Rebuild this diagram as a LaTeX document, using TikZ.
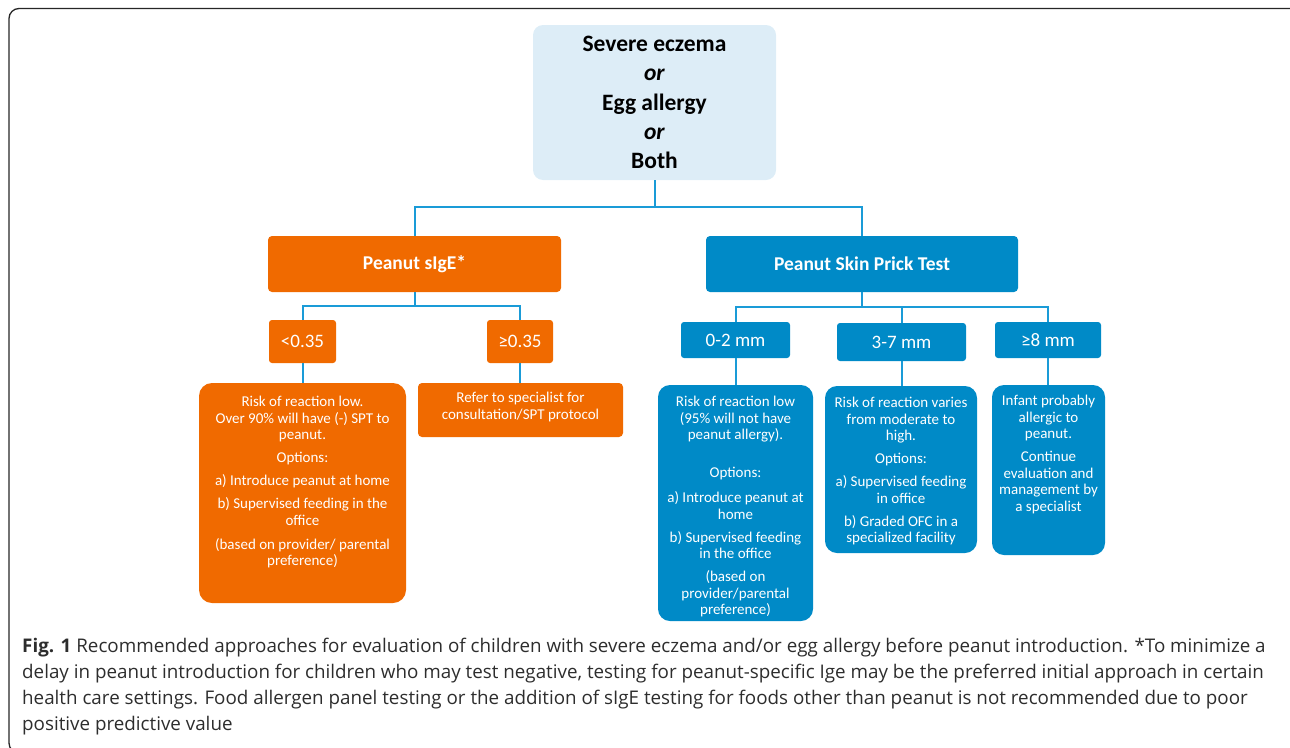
\documentclass[tikz,border=0pt]{standalone}
\usepackage{fontspec}
\setmainfont{Carlito}
\newfontfamily\capfont{Open Sans}
\definecolor{orangeC}{RGB}{240,106,0}
\definecolor{blueC}{RGB}{0,138,199}
\definecolor{lightC}{RGB}{221,237,247}
\definecolor{connC}{RGB}{26,155,215}
\definecolor{capC}{RGB}{45,45,45}
\begin{document}
\begin{tikzpicture}[x=1pt,y=-1pt,
  conn/.style={draw=connC, line width=2pt},
  obox/.style={fill=orangeC, inner sep=0pt, text=white},
  bbox/.style={fill=blueC, inner sep=0pt, text=white},
  headtxt/.style={font=\fontsize{19.5}{22}\selectfont\bfseries},
  valtxt/.style={font=\fontsize{19}{21}\selectfont},
  bodytxt/.style={text=white, inner sep=0pt, align=center, anchor=north, font=\fontsize{15}{16.5}\selectfont},
  captxt/.style={text=capC, inner sep=0pt, anchor=base west, font=\capfont\fontsize{18.8}{22}\selectfont}
]
\useasboundingbox (0,0) rectangle (1290,747);
% frame
\begin{scope}
\clip (0,0) rectangle (1290,747);
\draw[line width=1.3pt, draw=black!85, rounded corners=10pt] (9,8.5) rectangle (1300,753);
\end{scope}

% top box
\node[fill=lightC, rounded corners=10pt, inner sep=0pt, minimum width=243pt, minimum height=155pt,
      align=center, font=\fontsize{23.5}{29.25}\selectfont\bfseries] (top) at (654.5,102.5)
  {Severe eczema\\ \textit{or}\\ Egg allergy\\ \textit{or}\\ Both};

% level 1
\node[obox, rounded corners=4pt, minimum width=293pt, minimum height=56pt, headtxt] (sige) at (414.5,264) {Peanut sIgE*};
\node[bbox, rounded corners=4pt, minimum width=312pt, minimum height=56pt, headtxt] (spt) at (862,264) {Peanut Skin Prick Test};

% level 2
\node[obox, rounded corners=3pt, minimum width=67pt, minimum height=43pt, valtxt] (lt) at (302.5,341.5) {<0.35};
\node[obox, rounded corners=3pt, minimum width=66pt, minimum height=43pt, valtxt] (ge) at (520,341.5) {≥0.35};
\node[bbox, rounded corners=3pt, minimum width=109pt, minimum height=36pt, valtxt] (mm02) at (735.5,340) {0-2 mm};
\node[bbox, rounded corners=3pt, minimum width=129pt, minimum height=38pt, valtxt] (mm37) at (901.5,342) {3-7 mm};
\node[bbox, rounded corners=3pt, minimum width=106pt, minimum height=36pt, valtxt] (mm8) at (1048,340) {≥8 mm};

% level 3 boxes
\node[obox, rounded corners=13pt, minimum width=207pt, minimum height=220pt] (l1) at (302.5,493) {};
\node[obox, rounded corners=4pt, minimum width=205pt, minimum height=54pt] (ref) at (520.5,410) {};
\node[bbox, rounded corners=12pt, minimum width=155pt, minimum height=236pt] (b1) at (735.5,503) {};
\node[bbox, rounded corners=12pt, minimum width=152pt, minimum height=167pt] (b2) at (901,469.5) {};
\node[bbox, rounded corners=12pt, minimum width=113pt, minimum height=170pt] (b3) at (1048.5,470) {};

% level 3 texts
\node[bodytxt] (l1t) at (302.5,396) {Risk of reaction low.\\ Over 90\% will have (-) SPT to\\ peanut.\\[6.5pt]
  Options:\\[6.5pt] a) Introduce peanut at home\\[6.5pt] b) Supervised feeding in the\\ office\\[7.5pt]
  (based on provider/ parental\\ preference)};
\node[bodytxt] (reft) at (520.5,392) {Refer to specialist for\\ consultation/SPT protocol};
\node[bodytxt] (b1t) at (735.5,396) {Risk of reaction low\\ (95\% will not have\\ peanut allergy).\\[21.5pt]
  Options:\\[8.5pt] a) Introduce peanut at\\ home\\[6.5pt] b) Supervised feeding\\ in the office\\[6.5pt]
  (based on\\ provider/parental\\ preference)};
\node[bodytxt] (b2t) at (901,397) {Risk of reaction varies\\ from moderate to\\ high.\\[6.5pt]
  Options:\\[6.5pt] a) Supervised feeding\\ in office\\[6.5pt] b) Graded OFC in a\\ specialized facility};
\node[bodytxt] (b3t) at (1048.5,395) {Infant probably\\ allergic to\\ peanut.\\[6.5pt]
  Continue\\ evaluation and\\ management by\\ a specialist};

% connectors
\draw[conn] (top.south) -- ++(0,27) -| (sige.north);
\draw[conn] (top.south) -- ++(0,27) -| (spt.north);
\draw[conn] (sige.south) -- ++(0,14) -| (lt.north);
\draw[conn] (sige.south) -- ++(0,14) -| (ge.north);
\draw[conn] (spt.south) -- ++(0,15) -| (mm02.north);
\draw[conn] (spt.south) -- ++(0,15) -| (mm37.north);
\draw[conn] (spt.south) -- ++(0,15) -| (mm8.north);
\draw[conn] (lt.south) -- (lt.south |- l1.north);
\draw[conn] (ge.south) -- (ge.south |- ref.north);
\draw[conn] (mm02.south) -- (mm02.south |- b1.north);
\draw[conn] (mm37.south) -- (mm37.south |- b2.north);
\draw[conn] (mm8.south) -- (mm8.south |- b3.north);

% caption
\node[captxt] (cap1) at (22,652) {\textbf{Fig. 1} Recommended approaches for evaluation of children with severe eczema and/or egg allergy before peanut introduction. *To minimize a};
\node[captxt] (cap2) at (22,678) {delay in peanut introduction for children who may test negative, testing for peanut-specific Ige may be the preferred initial approach in certain};
\node[captxt] (cap3) at (22,704) {health care settings. Food allergen panel testing or the addition of sIgE testing for foods other than peanut is not recommended due to poor};
\node[captxt] (cap4) at (22,730) {positive predictive value};
\end{tikzpicture}
\end{document}
